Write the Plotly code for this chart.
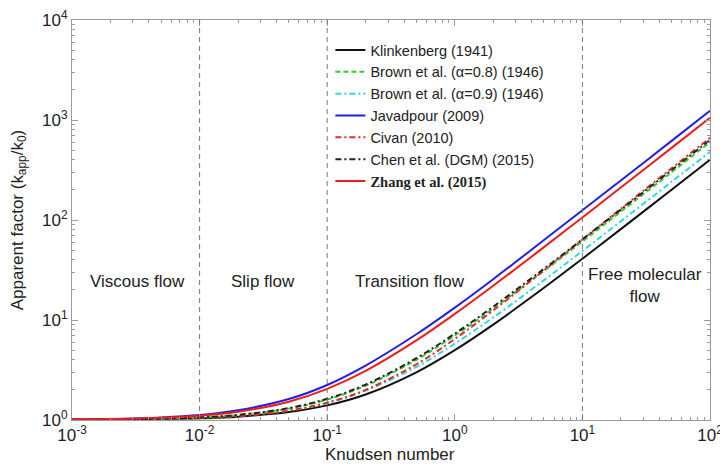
import math
import plotly.graph_objects as go

kn = [0.001, 0.002, 0.005, 0.01, 0.02, 0.05, 0.1, 0.2, 0.5, 1, 2, 5, 10, 20, 50, 100]

klinkenberg = [1.004, 1.008, 1.02, 1.04, 1.08, 1.2, 1.4, 1.8, 3.0, 5.0, 9.0, 21, 41, 81, 201, 401]
brown_08 = [1.006, 1.012, 1.03, 1.06, 1.12, 1.3, 1.6, 2.2, 4.0, 7.0, 13, 31, 61, 121, 300, 600]
brown_09 = [1.005, 1.01, 1.024, 1.048, 1.1, 1.24, 1.48, 1.97, 3.4, 5.8, 10.6, 25, 49, 97, 241, 481]
javadpour = [1.012, 1.024, 1.06, 1.12, 1.25, 1.62, 2.24, 3.5, 7.2, 13.3, 25.6, 63, 125, 248, 618, 1235]
civan = [1.0043, 1.0087, 1.0224, 1.0457, 1.093, 1.239, 1.489, 2.0, 3.61, 6.46, 12.47, 31.4, 63.7, 129.4, 328.5, 663]
chen = [1.0063, 1.0126, 1.0315, 1.063, 1.126, 1.315, 1.63, 2.26, 4.15, 7.3, 13.6, 32.5, 64, 127, 316, 631]
zhang = [1.0105, 1.021, 1.0525, 1.105, 1.21, 1.525, 2.05, 3.1, 6.25, 11.5, 22, 53.5, 106, 211, 526, 1051]

names = ["Klinkenberg (1941)", "Brown et al. (\u03b1=0.8) (1946)", "Brown et al. (\u03b1=0.9) (1946)",
         "Javadpour (2009)", "Civan (2010)", "Chen et al. (DGM) (2015)",
         "<span style=\"font-family:'Liberation Serif', 'Times New Roman', serif\"><b>Zhang et al. (2015)</b></span>"]
series = [klinkenberg, brown_08, brown_09, javadpour, civan, chen, zhang]
colors = ["#111111", "#33cc33", "#2ed8e0", "#1f1fe6", "#e62828", "#222222", "#ee1c1c"]
dashes = ["solid", "5px,3px", "6px,3px,2px,3px", "solid", "6px,3px,2px,3px", "6px,3px,2px,3px", "solid"]

boundaries = [0.01, 0.1, 10]
regime_labels = ["Viscous flow", "Slip flow", "Transition flow", "Free molecular<br>flow"]
regime_kn = [10**-2.483, 10**-1.503, 10**-0.355, 10**1.49]
regime_factor = [10**1.39, 10**1.39, 10**1.39, 10**1.35]

x_ticks = [1e-3, 1e-2, 1e-1, 1, 10, 100]
x_ticktext = ["10<sup>-3</sup>", "10<sup>-2</sup>", "10<sup>-1</sup>", "10<sup>0</sup>", "10<sup>1</sup>", "10<sup>2</sup>"]
y_ticks = [1, 10, 100, 1000, 10000]
y_ticktext = ["10<sup>0</sup>", "10<sup>1</sup>", "10<sup>2</sup>", "10<sup>3</sup>", "10<sup>4</sup>"]

FONT = "Liberation Sans, Arial, sans-serif"

fig = go.Figure()
for name, ys, c, d in zip(names, series, colors, dashes):
    fig.add_trace(go.Scatter(x=kn, y=ys, mode="lines", name=name,
                             line=dict(color=c, width=2, dash=d, shape="spline")))

for b in boundaries:
    fig.add_shape(type="line", x0=b, x1=b, y0=0, y1=1, xref="x", yref="paper",
                  line=dict(color="#777777", width=1, dash="5px,4px"))

for t, xx, yy in zip(regime_labels, regime_kn, regime_factor):
    fig.add_annotation(x=math.log10(xx), y=math.log10(yy), xref="x", yref="y", text=t, showarrow=False,
                       font=dict(size=17, color="#222222", family=FONT))

fig.add_annotation(x=0.498, y=-0.0875, xref="paper", yref="paper", text="Knudsen number",
                   showarrow=False, yanchor="middle", font=dict(size=17, color="#222222", family=FONT))

minor_x = [m * 10**e for e in range(-3, 2) for m in range(2, 10)]
minor_y = [m * 10**e for e in range(0, 4) for m in range(2, 10)]

axis_common = dict(showline=True, linecolor="#9a9a9a", linewidth=1, mirror="allticks",
                   ticks="inside", ticklen=6, tickcolor="#9a9a9a", showgrid=False, zeroline=False,
                   ticklabeloverflow="allow", automargin=False,
                   tickfont=dict(size=17, color="#222222", family=FONT))

fig.update_xaxes(type="log", range=[-3, 2], tickmode="array", tickvals=x_ticks, ticktext=x_ticktext,
                 ticklabelstandoff=0,
                 minor=dict(tickmode="array", tickvals=minor_x, ticks="inside", ticklen=3, tickcolor="#9a9a9a"),
                 **axis_common)
fig.update_yaxes(type="log", range=[0, 4], tickmode="array", tickvals=y_ticks, ticktext=y_ticktext,
                 title=dict(text="Apparent factor (k<sub>app</sub>/k<sub>0</sub>)", standoff=14,
                            font=dict(size=17, color="#222222", family=FONT)),
                 minor=dict(tickmode="array", tickvals=minor_y, ticks="inside", ticklen=3, tickcolor="#9a9a9a"),
                 **axis_common)

fig.update_layout(
    width=720, height=468,
    margin=dict(l=72, r=10, t=20, b=48),
    plot_bgcolor="white", paper_bgcolor="white",
    showlegend=True,
    legend=dict(x=0.405, y=0.965, xanchor="left", yanchor="top", bgcolor="rgba(0,0,0,0)",
                font=dict(size=14.5, color="#222222", family=FONT),
                tracegroupgap=0, itemwidth=30),
)

fig.write_html("out.html", config={"displayModeBar": False},
               post_script="document.body.style.margin='0px';")
